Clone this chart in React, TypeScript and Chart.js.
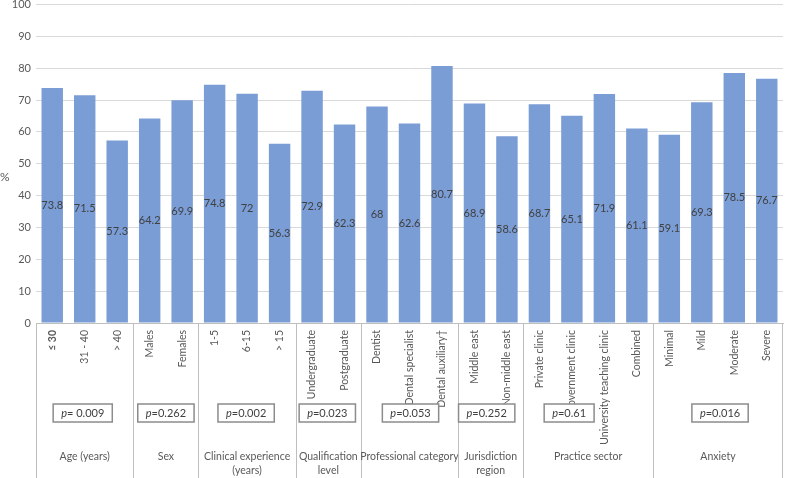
import React, { useEffect, useRef } from "react";
import { Chart, registerables } from "chart.js";

Chart.register(...registerables);

// ---- data ----
const categories = [
  "≤ 30", "31 - 40", "> 40",
  "Males", "Females",
  "1-5", "6-15", "> 15",
  "Undergraduate", "Postgraduate",
  "Dentist", "Dental specialist", "Dental auxiliary†",
  "Middle east", "Non-middle east",
  "Private clinic", "Government clinic", "University teaching clinic", "Combined",
  "Minimal", "Mild", "Moderate", "Severe",
];
const values = [
  73.8, 71.5, 57.3,
  64.2, 69.9,
  74.8, 72, 56.3,
  72.9, 62.3,
  68, 62.6, 80.7,
  68.9, 58.6,
  68.7, 65.1, 71.9, 61.1,
  59.1, 69.3, 78.5, 76.7,
];
const groupNames = [
  ["Age (years)"],
  ["Sex"],
  ["Clinical experience", "(years)"],
  ["Qualification", "level"],
  ["Professional category"],
  ["Jurisdiction", "region"],
  ["Practice sector"],
  ["Anxiety"],
];
const groupSizes = [3, 2, 3, 2, 3, 2, 4, 4];
const pValues = ["= 0.009", "=0.262", "=0.002", "=0.023", "=0.053", "=0.252", "=0.61", "=0.016"];
const yTicks = [0, 10, 20, 30, 40, 50, 60, 70, 80, 90, 100];

// ---- style ----
const FONT = "Lato, 'Liberation Sans', sans-serif";
const BAR_COLOR = "#7a9dd6";
const GRID_COLOR = "#d9d9d9";
const AXIS_COLOR = "#bfbfbf";
const TEXT_COLOR = "#595959";
const LABEL_COLOR = "#404040";
const boxOffsets = [-2, 0, -1, -1, 1, -4, -19, 2];

const overlayPlugin = {
  id: "overlay",
  afterDatasetsDraw(chart: any) {
    const ctx = chart.ctx;
    const meta = chart.getDatasetMeta(0);
    ctx.save();
    ctx.font = `11px ${FONT}`;
    ctx.fillStyle = LABEL_COLOR;
    ctx.textAlign = "center";
    ctx.textBaseline = "middle";
    meta.data.forEach((el: any, i: number) => {
      const v = chart.data.datasets[0].data[i];
      ctx.fillText(String(v), el.x, (el.y + el.base) / 2);
    });
    ctx.restore();
  },
  afterDraw(chart: any) {
    const ctx = chart.ctx;
    const xs = chart.scales.x;
    const area = chart.chartArea;
    const H = chart.height;
    const half = (xs.getPixelForValue(1) - xs.getPixelForValue(0)) / 2;
    ctx.save();

    // "%" title
    ctx.font = `12px ${FONT}`;
    ctx.fillStyle = TEXT_COLOR;
    ctx.textAlign = "left";
    ctx.textBaseline = "middle";
    ctx.fillText("%", 0, 177);

    // category labels (rotated)
    categories.forEach((c, i) => {
      const px = xs.getPixelForValue(i);
      ctx.save();
      ctx.translate(px, area.bottom + 7);
      ctx.rotate(-Math.PI / 2);
      ctx.font = `${i === 0 ? "bold " : ""}10.5px ${FONT}`;
      ctx.fillStyle = TEXT_COLOR;
      ctx.textAlign = "right";
      ctx.textBaseline = "middle";
      ctx.fillText(c, 0, 0);
      ctx.restore();
    });

    // separators, p boxes, group labels
    let start = 0;
    groupSizes.forEach((n, g) => {
      const left = xs.getPixelForValue(start) - half;
      const right = xs.getPixelForValue(start + n - 1) + half;
      const xl = Math.round(left) + 0.5;
      ctx.strokeStyle = AXIS_COLOR;
      ctx.lineWidth = 1;
      ctx.beginPath();
      ctx.moveTo(xl, area.bottom);
      ctx.lineTo(xl, H);
      ctx.stroke();
      if (g === groupSizes.length - 1) {
        const xr = Math.round(right) - 0.5;
        ctx.beginPath();
        ctx.moveTo(xr, area.bottom);
        ctx.lineTo(xr, H);
        ctx.stroke();
      }
      const cx = (left + right) / 2;

      // p-value box
      ctx.font = `italic 11px ${FONT}`;
      const pw = ctx.measureText("p").width;
      ctx.font = `11px ${FONT}`;
      const rw = ctx.measureText(pValues[g]).width;
      const tw = pw + rw;
      const bw = tw + 16;
      const bx = cx + boxOffsets[g] - bw / 2;
      const by = 404;
      ctx.fillStyle = "#ffffff";
      ctx.fillRect(bx, by, bw, 18);
      ctx.strokeStyle = "#8c8c8c";
      ctx.lineWidth = 1.5;
      ctx.strokeRect(bx, by, bw, 18);
      ctx.fillStyle = LABEL_COLOR;
      ctx.textAlign = "left";
      ctx.textBaseline = "middle";
      const tx = bx + (bw - tw) / 2;
      ctx.font = `italic 11px ${FONT}`;
      ctx.fillText("p", tx, by + 9.5);
      ctx.font = `11px ${FONT}`;
      ctx.fillText(pValues[g], tx + pw, by + 9.5);

      // group label
      ctx.fillStyle = TEXT_COLOR;
      ctx.textAlign = "center";
      ctx.font = `10.5px ${FONT}`;
      groupNames[g].forEach((line, li) => {
        ctx.fillText(line, cx, 457 + li * 14);
      });
      start += n;
    });
    ctx.restore();
  },
};

export default function App() {
  const ref = useRef<HTMLCanvasElement | null>(null);
  useEffect(() => {
    if (!ref.current) return;
    const chart = new Chart(ref.current, {
      type: "bar",
      data: {
        labels: categories,
        datasets: [
          {
            data: values,
            backgroundColor: BAR_COLOR,
            borderWidth: 0,
            barPercentage: 0.66,
            categoryPercentage: 1,
          },
        ],
      },
      options: {
        animation: false,
        responsive: true,
        maintainAspectRatio: false,
        layout: { padding: { top: 4.5, right: 4, bottom: 155, left: 0 } },
        plugins: { legend: { display: false }, tooltip: { enabled: false } },
        scales: {
          x: {
            type: "category",
            grid: { display: false },
            ticks: { display: false },
            border: { display: true, color: AXIS_COLOR, width: 1 },
            afterFit: (scale: any) => {
              scale.height = 0;
            },
          },
          y: {
            min: 0,
            max: 100,
            afterBuildTicks: (scale: any) => {
              scale.ticks = yTicks.map((v) => ({ value: v }));
            },
            afterFit: (scale: any) => {
              scale.width = 36;
              scale.paddingTop = 0;
              scale.paddingBottom = 0;
            },
            grid: { color: GRID_COLOR, drawTicks: false },
            border: { display: false },
            ticks: {
              padding: 5,
              color: TEXT_COLOR,
              font: { family: FONT, size: 11 },
            },
          },
        },
      },
      plugins: [overlayPlugin],
    });
    return () => chart.destroy();
  }, []);
  return (
    <div style={{ position: "absolute", left: 0, top: 0, width: 787, height: 478, background: "#fff" }}>
      <canvas ref={ref} />
    </div>
  );
}
